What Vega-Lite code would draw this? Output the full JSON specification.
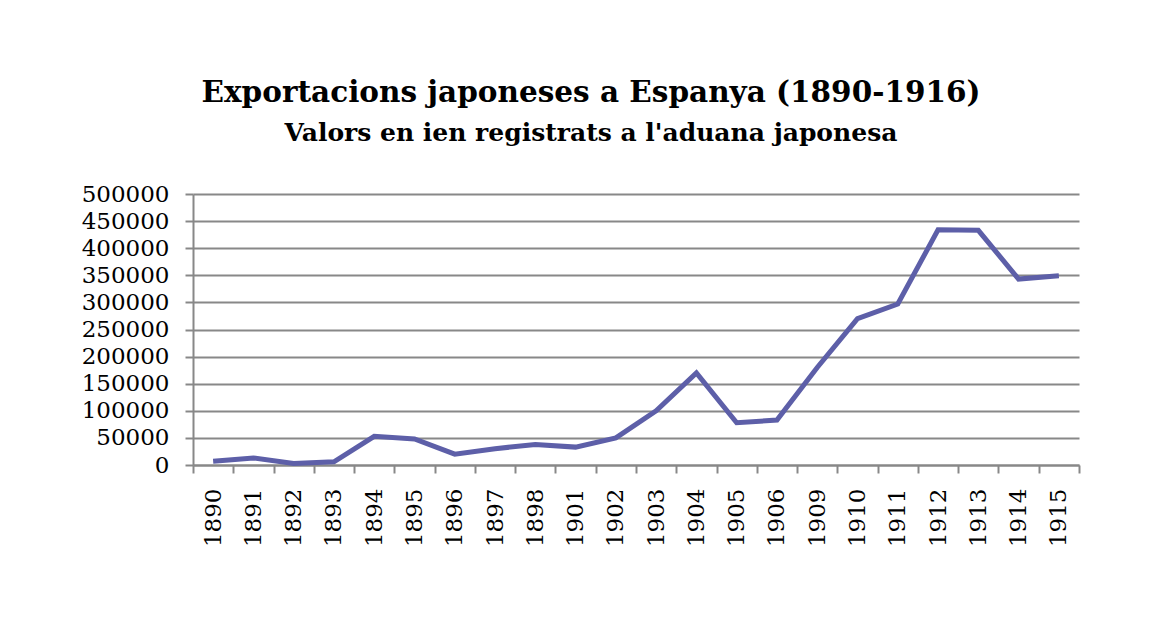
{
  "$schema": "https://vega.github.io/schema/vega-lite/v6.json",
  "width": 886,
  "height": 271,
  "autosize": "none",
  "padding": {"left": 193, "top": 194, "right": 84, "bottom": 166},
  "background": "white",
  "title": {
    "text": "Exportacions japoneses a Espanya (1890-1916)",
    "subtitle": "Valors en ien registrats a l'aduana japonesa",
    "anchor": "middle",
    "frame": "group",
    "dx": -45,
    "offset": 36,
    "font": "DejaVu Serif",
    "fontSize": 29.5,
    "fontWeight": "bold",
    "color": "black",
    "subtitleFont": "DejaVu Serif",
    "subtitleFontSize": 25,
    "subtitleFontWeight": "bold",
    "subtitleColor": "black",
    "subtitlePadding": 13
  },
  "data": {
    "values": [
      {"year": "1890", "value": 7000},
      {"year": "1891", "value": 13000},
      {"year": "1892", "value": 3000},
      {"year": "1893", "value": 6000},
      {"year": "1894", "value": 53000},
      {"year": "1895", "value": 48000},
      {"year": "1896", "value": 20000},
      {"year": "1897", "value": 30000},
      {"year": "1898", "value": 38000},
      {"year": "1901", "value": 33000},
      {"year": "1902", "value": 50000},
      {"year": "1903", "value": 100000},
      {"year": "1904", "value": 170000},
      {"year": "1905", "value": 78000},
      {"year": "1906", "value": 83000},
      {"year": "1909", "value": 180000},
      {"year": "1910", "value": 270000},
      {"year": "1911", "value": 297000},
      {"year": "1912", "value": 434000},
      {"year": "1913", "value": 433000},
      {"year": "1914", "value": 343000},
      {"year": "1915", "value": 349000}
    ]
  },
  "mark": {"type": "line", "color": "#5d5fa8", "strokeWidth": 5, "strokeJoin": "miter"},
  "encoding": {
    "x": {
      "field": "year",
      "type": "ordinal",
      "bandPosition": 0.5,
      "scale": {"type": "band", "paddingInner": 0, "paddingOuter": 0},
      "axis": {
        "title": null,
        "labelAngle": -90,
        "labelAlign": "right",
        "labelBaseline": "middle",
        "labelFont": "DejaVu Serif",
        "labelFontSize": 23,
        "labelColor": "black",
        "labelPadding": 15,
        "tickBand": "extent",
        "tickSize": 8,
        "tickColor": "#888888",
        "tickWidth": 2,
        "domainColor": "#888888",
        "domainWidth": 2,
        "grid": false
      }
    },
    "y": {
      "field": "value",
      "type": "quantitative",
      "scale": {"domain": [0, 500000]},
      "axis": {
        "title": null,
        "values": [0, 50000, 100000, 150000, 200000, 250000, 300000, 350000, 400000, 450000, 500000],
        "format": "d",
        "labelFont": "DejaVu Serif",
        "labelFontSize": 23,
        "labelColor": "black",
        "labelPadding": 16,
        "tickSize": 8,
        "tickColor": "#888888",
        "tickWidth": 2,
        "domainColor": "#888888",
        "domainWidth": 2,
        "grid": true,
        "gridColor": "#888888",
        "gridWidth": 2,
        "gridOpacity": 1
      }
    }
  },
  "config": {"view": {"stroke": null}}
}
